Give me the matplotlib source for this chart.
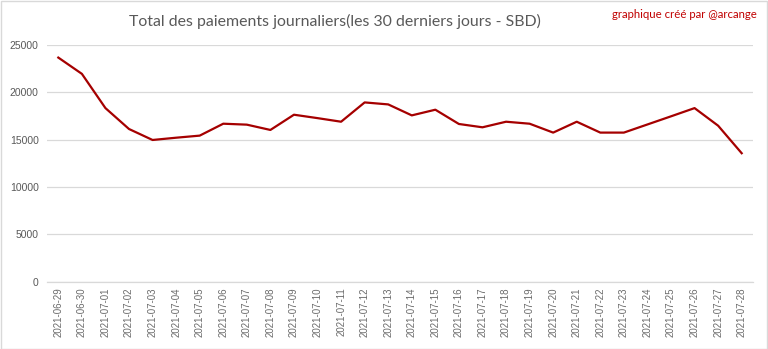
import matplotlib
matplotlib.use("Agg")
import matplotlib.pyplot as plt
from matplotlib.patches import Rectangle

dates = ["2021-06-29", "2021-06-30", "2021-07-01", "2021-07-02", "2021-07-03",
         "2021-07-04", "2021-07-05", "2021-07-06", "2021-07-07", "2021-07-08",
         "2021-07-09", "2021-07-10", "2021-07-11", "2021-07-12", "2021-07-13",
         "2021-07-14", "2021-07-15", "2021-07-16", "2021-07-17", "2021-07-18",
         "2021-07-19", "2021-07-20", "2021-07-21", "2021-07-22", "2021-07-23",
         "2021-07-24", "2021-07-25", "2021-07-26", "2021-07-27", "2021-07-28"]
payouts = [23670, 21950, 18330, 16120, 14960, 15200, 15420, 16680, 16580, 16020,
           17630, 17270, 16890, 18930, 18720, 17560, 18160, 16650, 16300, 16890,
           16680, 15740, 16890, 15740, 15740, 16600, 17460, 18330, 16470, 13560]
yticks = [0, 5000, 10000, 15000, 20000, 25000]

title = "Total des paiements journaliers(les 30 derniers jours - SBD)"
credit = "graphique créé par @arcange"

plt.rcParams['font.family'] = ['Lato', 'DejaVu Sans']

W, H = 768, 349
fig = plt.figure(figsize=(W / 100, H / 100), dpi=100)
ax = fig.add_axes([47 / W, 1 - 281.5 / H, (753 - 47) / W, (281.5 - 45) / H])

x = list(range(len(dates)))
ax.plot(x, payouts, color="#A50000", linewidth=1.6, solid_joinstyle="round")
ax.set_xlim(-0.48, len(dates) - 0.52)
ax.set_ylim(0, 25000)
ax.set_yticks(yticks)
ax.set_yticklabels([str(v) for v in yticks], fontsize=7.5, color="#595959",
                   family=["Liberation Sans", "DejaVu Sans"])
ax.set_xticks(x)
ax.set_xticklabels(dates, rotation=90, fontsize=7, color="#6B6B6B",
                   family=["Liberation Sans", "DejaVu Sans"])
ax.tick_params(axis="both", length=0, pad=6)
ax.tick_params(axis="x", pad=4)
ax.grid(axis="y", color="#D9D9D9", linewidth=0.9)
ax.set_axisbelow(True)
for s in ["top", "right", "left"]:
    ax.spines[s].set_visible(False)
ax.spines["bottom"].set_color("#D9D9D9")
ax.spines["bottom"].set_linewidth(0.9)

fig.text(335 / W, 1 - 21 / H, title, ha="center", va="center",
         fontsize=11.4, color="#595959")
fig.text(757 / W, 1 - 15 / H, credit, ha="right", va="center",
         fontsize=8.2, color="#C00000")

fig.patches.append(Rectangle((0.5 / W, 0.5 / H), (W - 1.5) / W, (H - 1.5) / H,
                             transform=fig.transFigure, fill=False,
                             edgecolor="#D9D9D9", linewidth=1))

fig.savefig("out.png", dpi=100)
